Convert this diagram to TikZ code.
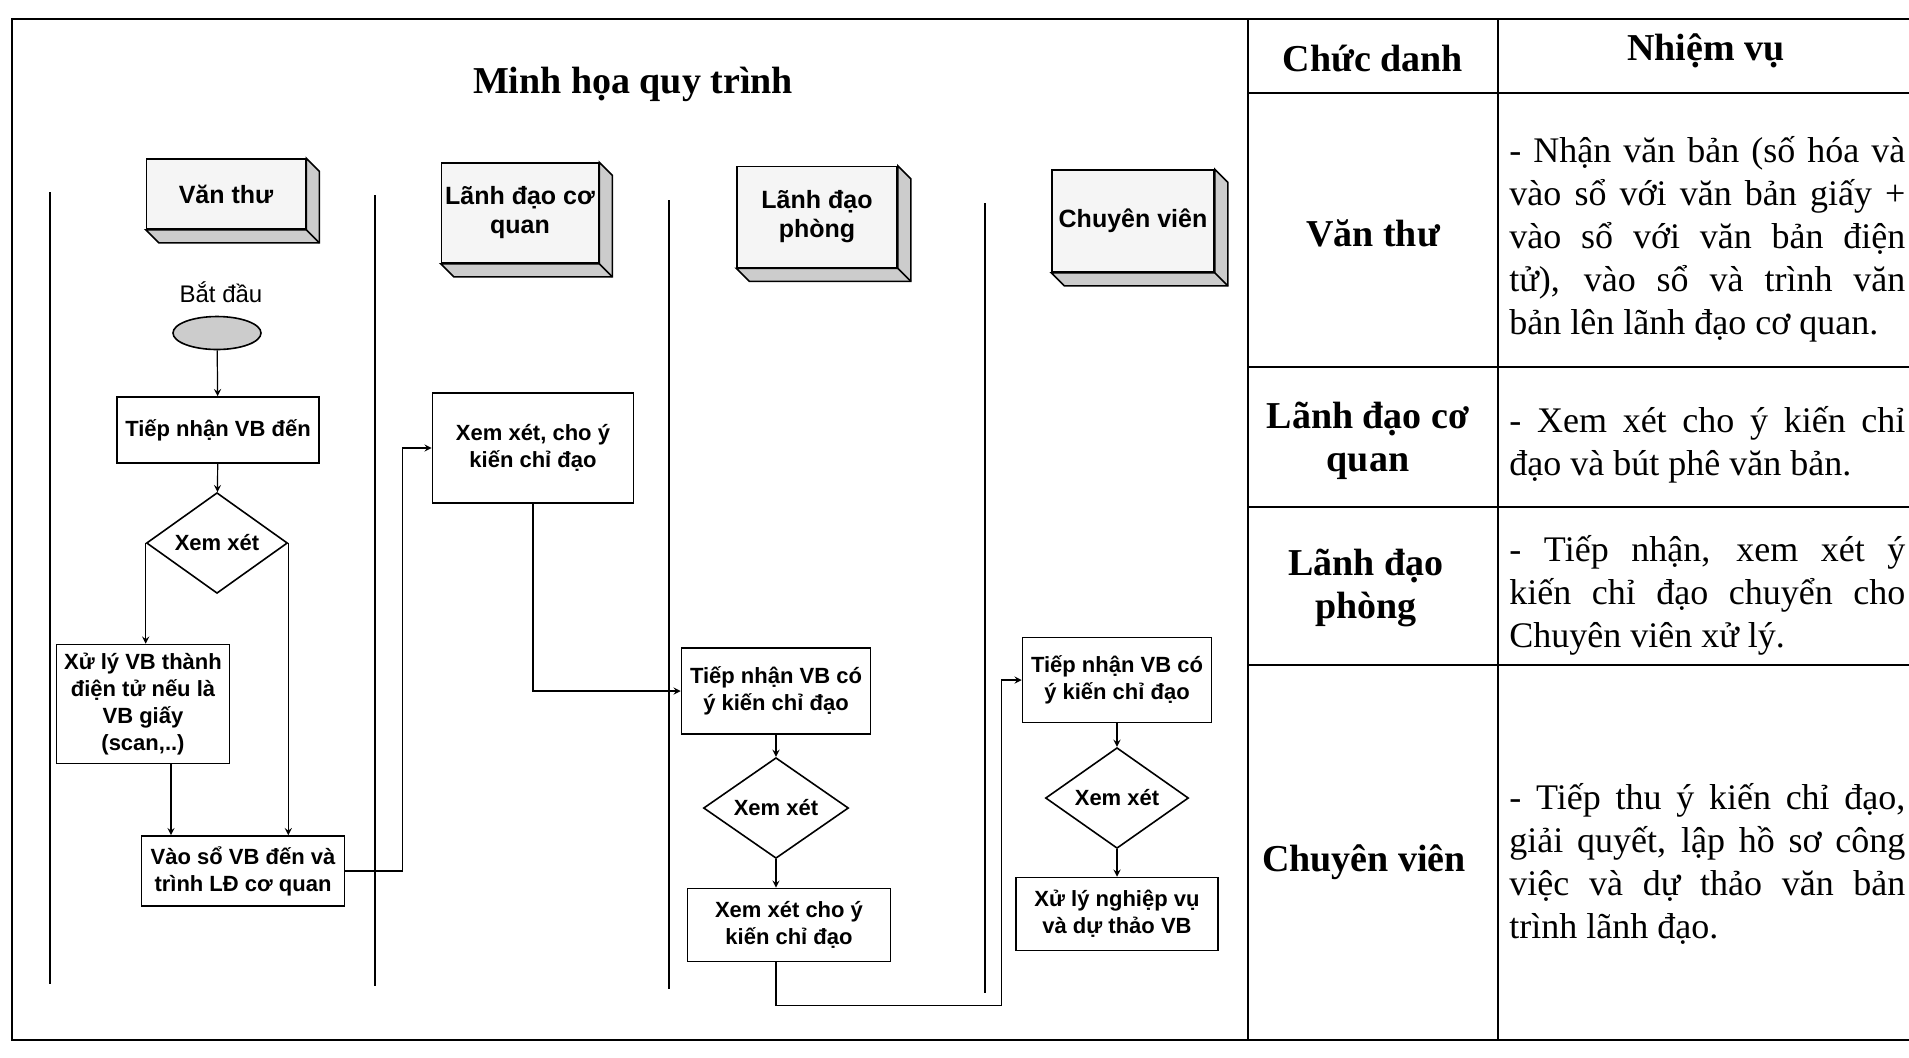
\documentclass[tikz,border=0pt]{standalone}
\usepackage{fontspec}
\setmainfont{Liberation Serif}
\newfontfamily\arial{Liberation Sans}
\usetikzlibrary{shapes.geometric}

\begin{document}
\begin{tikzpicture}[x=0.5pt, y=-0.5pt,
  box/.style={draw, line width=0.8pt, fill=white, align=center, inner sep=1pt, font=\arial\bfseries\fontsize{11}{13.5}\selectfont},
  choice/.style={draw, diamond, line width=0.8pt, fill=white, inner sep=0pt, font=\arial\bfseries\fontsize{11}{13.5}\selectfont},
  lanebox/.style={draw, line width=0.8pt, fill=gray!8, align=center, inner sep=1pt, font=\arial\bfseries\fontsize{12.5}{14.5}\selectfont},
  face/.style={draw, line width=0.8pt, fill=gray!40},
  flow/.style={line width=0.6pt, ->, >=stealth},
  cell/.style={align=center, font=\bfseries\fontsize{19}{21.5}\selectfont},
  task/.style={anchor=west, align=left, inner sep=0pt, font=\fontsize{18}{21.5}\selectfont}]
\useasboundingbox (0,0) rectangle (1909,1057);
\draw[line width=1pt] (12,19) rectangle (1930,1040);
\draw[line width=1.1pt] (1248,19) -- (1248,1040);
\draw[line width=1.1pt] (1498,19) -- (1498,1040);
\foreach \y in {93,367,507,665} \draw[line width=1.1pt] (1248,\y) -- (1930,\y);
\foreach \x/\a/\b in {50/192/984, 375/195/986, 669/200/989, 985/203/993} \draw[line width=0.6pt] (\x,\a) -- (\x,\b);
\node (0) at (633, 84) {\bfseries\fontsize{19}{22}\selectfont Minh họa quy trình};
\node[lanebox, minimum width=79.5pt, minimum height=35pt] (1) at (226, 194) {Văn thư};
\node[lanebox, minimum width=78.5pt, minimum height=50pt] (2) at (520, 213) {Lãnh đạo cơ\\quan};
\node[lanebox, minimum width=80pt, minimum height=50.5pt] (3) at (817, 217) {Lãnh đạo\\phòng};
\node[lanebox, minimum width=81pt, minimum height=51pt] (4) at (1133, 221) {Chuyên viên};
\foreach \n in {1,2,3,4} {
  \draw[face] (\n.south west) -- ++(13,13) -| ([shift={(13,13)}]\n.north east) -- (\n.north east) -- (\n.south east) -- cycle;
  \draw[line width=0.8pt] (\n.south east) -- ++(13,13);
}
\node[font=\arial\fontsize{12}{14}\selectfont] (5) at (221, 292) {Bắt đầu};
\node[draw, ellipse, line width=0.8pt, fill=gray!40, minimum width=44pt, minimum height=16.5pt] (6) at (217, 333) {};
\node[box, minimum width=101pt, minimum height=33pt] (7) at (218, 430) {Tiếp nhận VB đến};
\node[choice, minimum width=70.5pt, minimum height=40.5pt] (8) at (217, 543) {Xem xét};
\node[box, minimum width=86.5pt, minimum height=59.5pt] (9) at (143, 704) {Xử lý VB thành\\điện tử nếu là\\VB giấy\\(scan,..)};
\node[box, minimum width=101.5pt, minimum height=35pt] (10) at (243, 871) {Vào sổ VB đến và\\trình LĐ cơ quan};
\node[box, minimum width=100.5pt, minimum height=55pt] (11) at (533, 448) {Xem xét, cho ý\\kiến chỉ đạo};
\node[box, minimum width=94.5pt, minimum height=43pt] (12) at (776, 691) {Tiếp nhận VB có\\ý kiến chỉ đạo};
\node[choice, minimum width=72.5pt, minimum height=39pt] (13) at (776, 808) {Xem xét};
\node[box, minimum width=101.5pt, minimum height=36.5pt] (14) at (789, 925) {Xem xét cho ý\\kiến chỉ đạo};
\node[box, minimum width=94.5pt, minimum height=42.5pt] (15) at (1117, 680) {Tiếp nhận VB có\\ý kiến chỉ đạo};
\node[choice, minimum width=71.5pt, minimum height=40pt] (16) at (1117, 798) {Xem xét};
\node[box, minimum width=101pt, minimum height=36.5pt] (17) at (1117, 914) {Xử lý nghiệp vụ\\và dự thảo VB};
\node[cell] (18) at (1373, 59) {Chức danh};
\node[cell] (19) at (1706, 51) {Nhiệm vụ};
\node[cell] (20) at (1373, 233) {Văn thư};
\node[cell] (21) at (1368, 441) {Lãnh đạo cơ\\quan};
\node[cell] (22) at (1366, 588) {Lãnh đạo\\phòng};
\node[cell] (23) at (1364, 862) {Chuyên viên};
\node[task] (24) at (1509, 239) {\makebox[198pt][s]{- Nhận văn bản (số hóa và}\\\makebox[198pt][s]{vào sổ với văn bản giấy +}\\\makebox[198pt][s]{vào sổ với văn bản điện}\\\makebox[198pt][s]{tử), vào sổ và trình văn}\\bản lên lãnh đạo cơ quan.};
\node[task] (25) at (1509, 445) {\makebox[198pt][s]{- Xem xét cho ý kiến chỉ}\\đạo và bút phê văn bản.};
\node[task] (26) at (1509, 595) {\makebox[198pt][s]{- Tiếp nhận, xem xét ý}\\\makebox[198pt][s]{kiến chỉ đạo chuyển cho}\\Chuyên viên xử lý.};
\node[task] (27) at (1509, 864) {\makebox[198pt][s]{- Tiếp thu ý kiến chỉ đạo,}\\\makebox[198pt][s]{giải quyết, lập hồ sơ công}\\\makebox[198pt][s]{việc và dự thảo văn bản}\\trình lãnh đạo.};
\draw[flow] (6) -- (7);
\draw[flow] (7) -- (8);
\draw[flow] (8.west) -- (8.west |- 9.north);
\draw[flow] (8.east) -- (8.east |- 10.north);
\draw[flow] ([xshift=14pt]9.south) -- ([xshift=14pt]9.south |- 10.north);
\draw[flow] (10.east) -- ++(57,0) |- (11.west);
\draw[flow] (11.south) |- (12.west);
\draw[flow] (12) -- (13);
\draw[flow] (13.south) -- (13.south |- 14.north);
\draw[flow] (13.south |- 14.south) -- ++(0,43) -| ([xshift=-10pt]15.west) -- (15.west);
\draw[flow] (15) -- (16);
\draw[flow] (16) -- (17);
\end{tikzpicture}
\end{document}
